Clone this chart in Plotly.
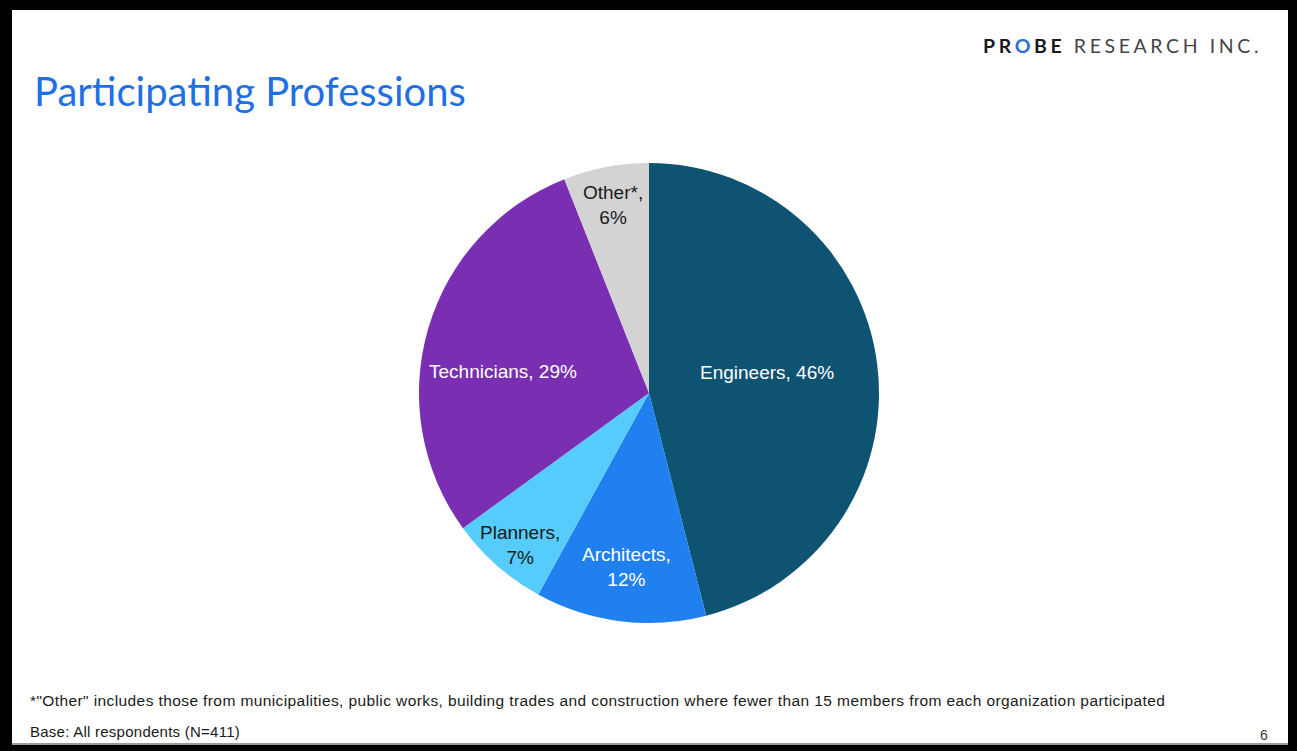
import math
import plotly.graph_objects as go

# ---- data ----
categories = ["Engineers", "Architects", "Planners", "Technicians", "Other*"]
values = [46, 12, 7, 29, 6]

title_text = "Participating Professions"
footnote_text = '*"Other" includes those from municipalities, public works, building trades and construction where fewer than 15 members from each organization participated'
base_text = "Base: All respondents (N=411)"
page_number = "6"

# ---- styles ----
W, H = 1297, 751
slice_colors = ["#0f5373", "#2180f0", "#55ccfb", "#7a2fb2", "#d3d3d3"]
label_colors = ["#ffffff", "#ffffff", "#1a1a1a", "#ffffff", "#1a1a1a"]
label_two_lines = [False, True, True, False, True]
label_radius = [0.51, 0.75, 0.88, 0.64, 0.83]
label_shift = [(2, -6), (-1, 3), (5, 0), (-5, 20), (0, 0)]  # px (right, down)
SANS = "Liberation Sans, Arial, sans-serif"

# pie geometry in pixels
CX, CY, R = 649, 393, 230

fig = go.Figure()
fig.add_trace(go.Pie(
    labels=categories,
    values=values,
    sort=False,
    direction="clockwise",
    rotation=0,
    marker=dict(colors=slice_colors, line=dict(width=0)),
    textinfo="none",
    hoverinfo="label+percent",
    showlegend=False,
    domain=dict(x=[(CX - R) / W, (CX + R) / W],
                y=[(H - CY - R) / H, (H - CY + R) / H]),
))

annotations = []
total = sum(values)
cum = 0
for i, (cat, val) in enumerate(zip(categories, values)):
    mid = (cum + val / 2) / total * 2 * math.pi
    cum += val
    r = label_radius[i] * R
    px = CX + r * math.sin(mid) + label_shift[i][0]
    py = CY - r * math.cos(mid) + label_shift[i][1]
    sep = ",<br>" if label_two_lines[i] else ", "
    annotations.append(dict(
        x=px / W, y=1 - py / H, xref="paper", yref="paper",
        text=f"{cat}{sep}{round(val / total * 100)}%",
        showarrow=False, xanchor="center", yanchor="middle",
        font=dict(family=SANS, size=19, color=label_colors[i]),
    ))

# title
annotations.append(dict(
    x=32 / W, y=1 - 91 / H, xref="paper", yref="paper",
    text=title_text, showarrow=False, xanchor="left", yanchor="middle",
    font=dict(family="Lato, sans-serif", size=40, color="#1f6fe5"),
))
# logo text
annotations.append(dict(
    x=1264 / W, y=1 - 45 / H, xref="paper", yref="paper",
    text=('<span style="letter-spacing:3.6px"><b><span style="color:#1a1a1a">PR</span>'
          '<span style="color:#2d6fd8">O</span><span style="color:#1a1a1a">BE</span></b>'
          ' RESEARCH INC.</span>'),
    showarrow=False, xanchor="right", yanchor="middle",
    font=dict(family="Lato, sans-serif", size=19.5, color="#454545"),
))
# footnotes
annotations.append(dict(
    x=28 / W, y=1 - 700 / H, xref="paper", yref="paper",
    text=f'<span style="letter-spacing:0.4px">{footnote_text}</span>',
    showarrow=False, xanchor="left", yanchor="middle",
    font=dict(family=SANS, size=15.5, color="#1a1a1a"),
))
annotations.append(dict(
    x=28 / W, y=1 - 731 / H, xref="paper", yref="paper",
    text=f'<span style="letter-spacing:0.25px">{base_text}</span>',
    showarrow=False, xanchor="left", yanchor="middle",
    font=dict(family=SANS, size=15, color="#1a1a1a"),
))
annotations.append(dict(
    x=1264 / W, y=1 - 735 / H, xref="paper", yref="paper",
    text=page_number, showarrow=False, xanchor="center", yanchor="middle",
    font=dict(family=SANS, size=14, color="#3a3a3a"),
))

shapes = [
    # white slide area inside black frame
    dict(type="rect", xref="paper", yref="paper", layer="below",
         x0=12 / W, x1=1288 / W, y0=1 - 744 / H, y1=1 - 10 / H,
         fillcolor="#ffffff", line=dict(width=0)),
    # faint gray line at bottom edge of slide
    dict(type="line", xref="paper", yref="paper", layer="below",
         x0=12 / W, x1=1288 / W, y0=1 - 744 / H, y1=1 - 744 / H,
         line=dict(color="#9a9a9a", width=2)),
]

fig.update_layout(
    width=W, height=H, autosize=False,
    margin=dict(l=0, r=0, t=0, b=0),
    paper_bgcolor="#000000",
    plot_bgcolor="#000000",
    annotations=annotations,
    shapes=shapes,
)

fig.write_html("out.html",
               config={"displayModeBar": False},
               post_script="document.body.style.margin='0';document.body.style.overflow='hidden';")
